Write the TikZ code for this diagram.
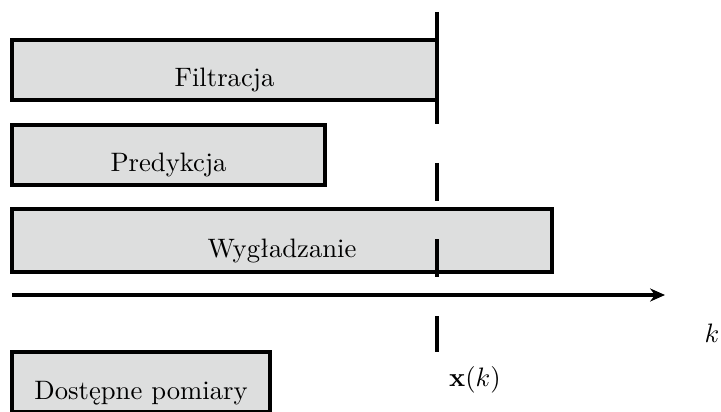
\documentclass[tikz,border=0pt]{standalone}
\usepackage{tikz}
\usetikzlibrary{arrows.meta}
\definecolor{boxgray}{RGB}{221,222,222}

\begin{document}
\begin{tikzpicture}[
    x=0.375pt, y=-0.375pt,
    box/.style={draw, line width=1.3pt, fill=boxgray, inner sep=0pt,
                outer sep=0pt, anchor=north west, minimum height=22.5pt,
                text height=12.75pt, text depth=0pt},
    arr/.style={-{Stealth[length=5.6pt, width=4.9pt]}, line width=1.3pt},
    cutline/.style={line width=1.2pt}
  ]
  \useasboundingbox (0,0) rectangle (721,412);
  \node[box, minimum width=159.4pt] (filt) at (12,40) {Filtracja};
  \node[box, minimum width=117.4pt] (pred) at (12,125) {Predykcja};
  \node[box, minimum width=202.5pt, minimum height=23.6pt] (wygl) at (12,209)
    {Wygładzanie};
  \node[box, minimum width=96.8pt] (pom) at (12,352) {Dostępne pomiary};
  % time axis
  \coordinate (axstart) at (12,295);
  \coordinate (axend) at (665,295);
  \draw[arr] (axstart) -- (axend);
  \node (k) at (712,333) {$k$};
  % current instant
  \coordinate (ktop) at (437,12);
  \coordinate (kmid) at (437,124);
  \coordinate (kbot) at (437,352);
  \draw[cutline] (ktop) -- (kmid);
  \draw[cutline, dash pattern=on 14.1pt off 14.6pt, dash phase=14.1pt]
    (kmid) -- (kbot);
  \node (xk) at (475,380) {$\mathbf{x}(k)$};
\end{tikzpicture}
\end{document}
